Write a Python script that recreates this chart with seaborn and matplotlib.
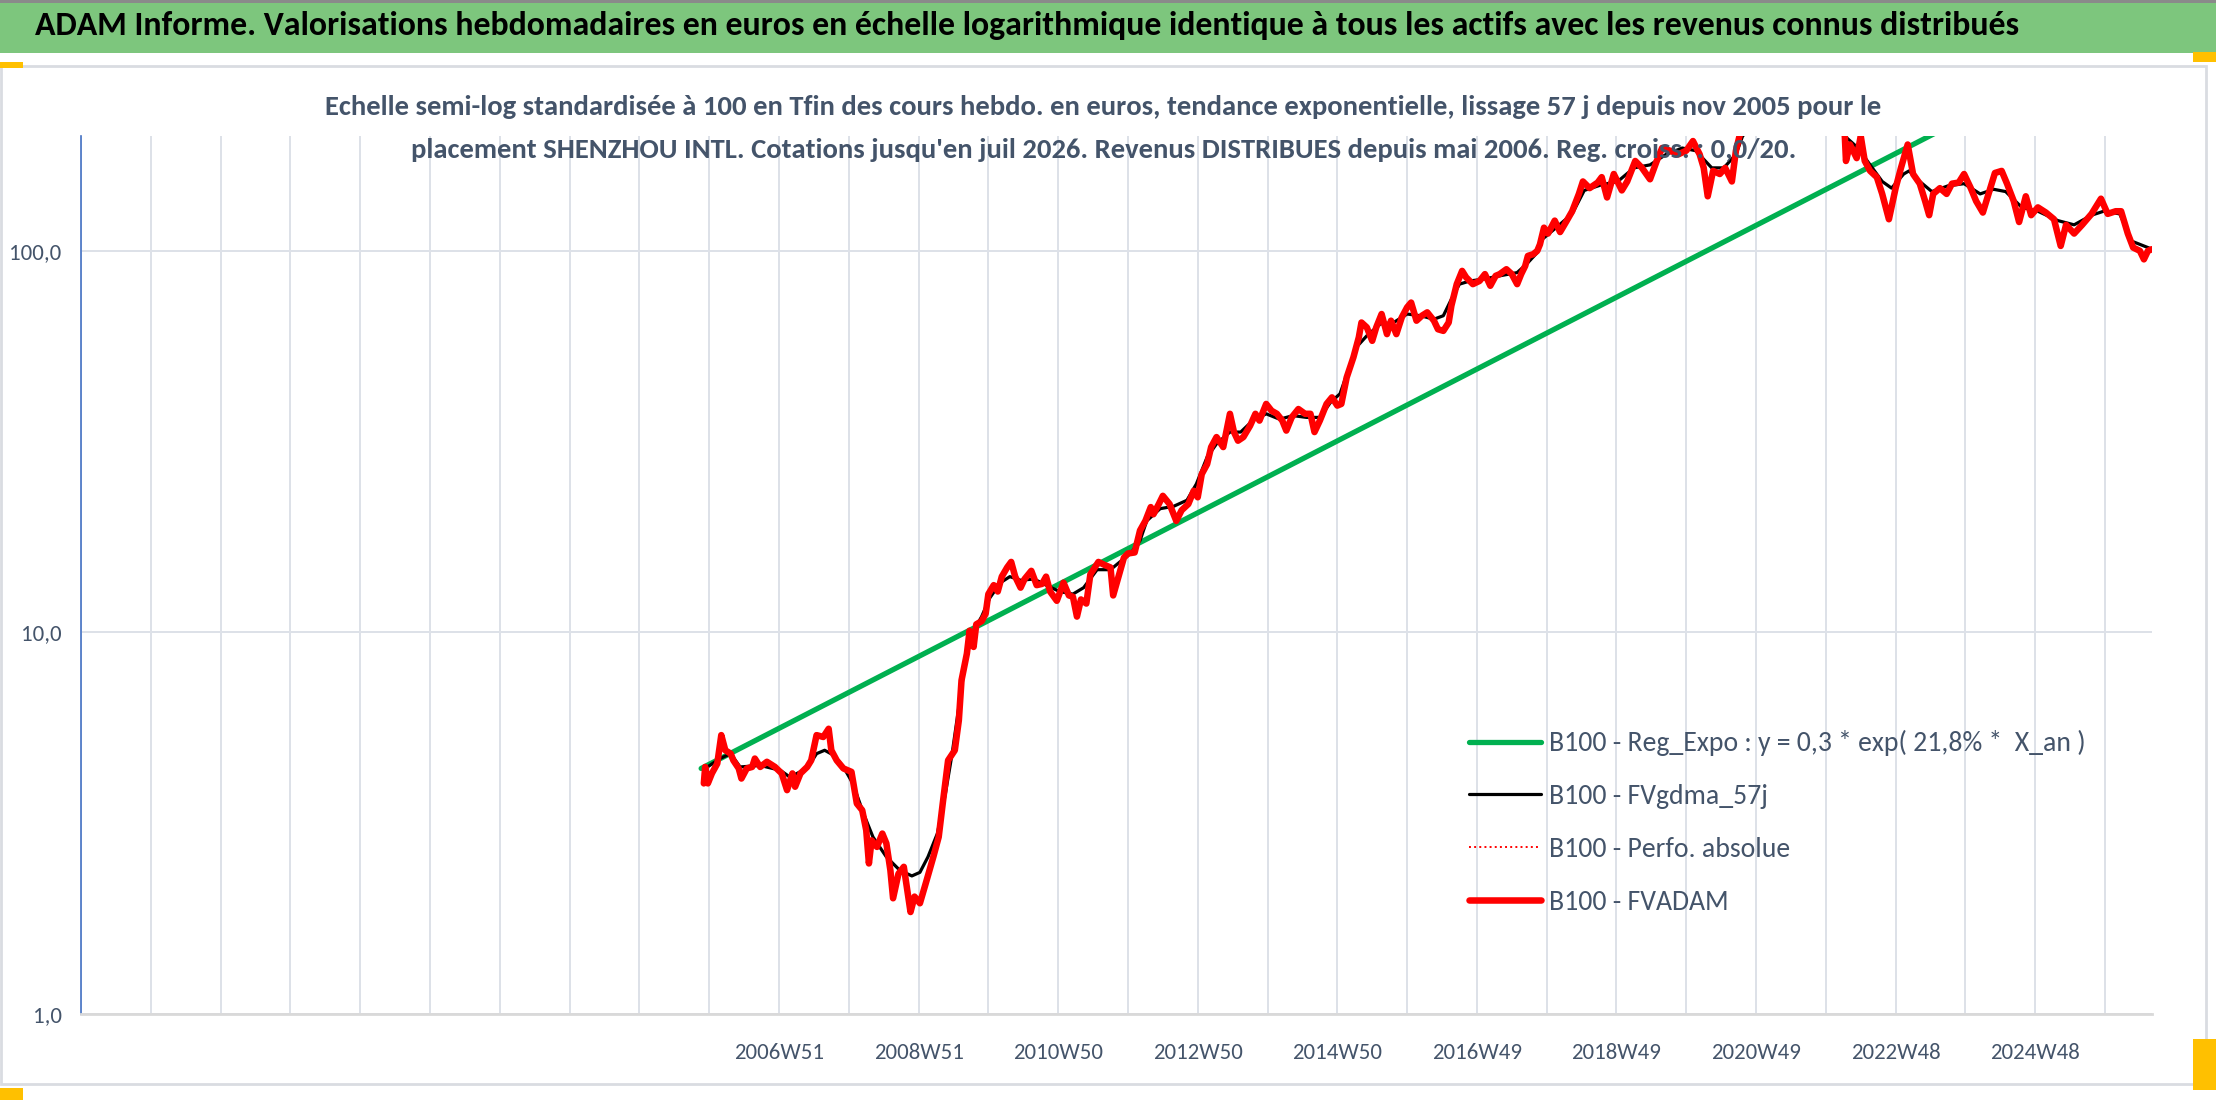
import matplotlib
matplotlib.use('Agg')
import matplotlib.pyplot as plt
from matplotlib.patches import Rectangle
import numpy as np
import pandas as pd
import seaborn as sns

sns.set_style('white')
plt.rcParams['font.family'] = ['Carlito', 'Barlow Semi Condensed', 'DejaVu Sans']

# --- données (semaine = index hebdo depuis 1996W51) ---
red_weeks = [464, 465, 467, 470, 474, 477, 480, 484, 486, 490, 492, 496, 500, 502, 506, 511, 517, 522, 526, 530,
             532, 536, 541, 544, 548, 553, 557, 559, 563, 568, 574, 578, 582, 585, 587, 589, 593, 597, 600, 603,
             605, 609, 613, 618, 621, 625, 630, 635, 639, 642, 646, 651, 654, 656, 660, 662, 665, 667, 671, 674,
             676, 680, 683, 686, 690, 693, 696, 700, 703, 708, 712, 716, 719, 722, 727, 732, 736, 739, 742, 745,
             749, 752, 758, 763, 767, 769, 773, 777, 780, 785, 789, 793, 797, 799, 803, 806, 811, 816, 820, 825,
             829, 832, 835, 839, 842, 846, 851, 856, 859, 862, 866, 871, 875, 878, 883, 887, 891, 895, 898, 902,
             907, 912, 916, 919, 923, 928, 932, 936, 939, 943, 948, 952, 954, 958, 962, 965, 969, 973, 976, 980,
             984, 988, 991, 995, 999, 1003, 1008, 1011, 1015, 1019, 1021, 1025, 1029, 1032, 1037, 1042, 1046, 1050,
             1054, 1057, 1062, 1066, 1070, 1073, 1076, 1078, 1082, 1085, 1087, 1090, 1093, 1098, 1102, 1107, 1111,
             1116, 1119, 1124, 1130, 1133, 1137, 1142, 1148, 1152, 1158, 1163, 1169, 1174, 1178, 1184, 1190, 1196,
             1201, 1206, 1209, 1212, 1216, 1221, 1225, 1230, 1233, 1236, 1245, 1260, 1275, 1290, 1305, 1314, 1315,
             1318, 1323, 1326, 1329, 1333, 1338, 1342, 1347, 1352, 1356, 1361, 1365, 1370, 1374, 1377, 1380, 1385,
             1390, 1394, 1399, 1403, 1408, 1412, 1417, 1422, 1426, 1431, 1435, 1440, 1444, 1449, 1453, 1458, 1464,
             1470, 1475, 1479, 1485, 1491, 1498, 1505, 1510, 1516, 1520, 1525, 1529, 1534, 1537, 1540, 1543]
red_vals = [4.02, 4.44, 4.02, 4.27, 4.53, 5.38, 4.91, 4.81, 4.62, 4.40, 4.14, 4.40, 4.44, 4.67, 4.44, 4.58, 4.44, 4.27, 3.86, 4.27,
            3.94, 4.27, 4.44, 4.62, 5.38, 5.32, 5.59, 4.91, 4.62, 4.40, 4.31, 3.56, 3.42, 3.03, 2.48, 2.85, 2.74, 2.97, 2.80, 2.38,
            2.01, 2.33, 2.43, 1.85, 2.03, 1.95, 2.24, 2.58, 2.91, 3.56, 4.62, 4.91, 5.88, 7.49, 8.80, 10.1, 9.16, 10.5, 10.7, 11.2,
            12.6, 13.3, 12.8, 14.0, 14.8, 15.3, 14.0, 13.1, 13.8, 14.5, 13.3, 13.4, 14.0, 12.8, 12.1, 13.5, 12.5, 12.4, 11.0, 12.2,
            11.9, 14.2, 15.3, 15.0, 14.8, 12.5, 14.0, 15.7, 16.1, 16.2, 18.5, 19.6, 21.3, 20.4, 21.7, 22.8, 21.7, 19.6, 20.9, 21.7,
            23.5, 22.6, 26.0, 27.6, 30.6, 32.5, 30.6, 37.4, 33.5, 31.8, 32.5, 34.8, 37.4, 35.9, 39.7, 38.1, 37.4, 35.9, 33.8, 36.6,
            38.5, 37.4, 37.4, 33.5, 35.9, 39.7, 41.3, 39.3, 39.7, 46.6, 52.6, 59.3, 64.9, 63.0, 58.1, 63.0, 68.3, 60.5, 65.6, 60.5,
            66.9, 71.1, 73.2, 65.6, 67.6, 69.0, 65.6, 62.3, 61.7, 64.9, 71.8, 81.8, 88.6, 85.2, 81.8, 83.4, 86.9, 81.0,
            86.0, 86.9, 89.5, 86.9, 81.8, 86.9, 91.3, 97.0, 98.0, 100, 104, 115, 111, 120, 112, 120, 127,
            141, 152, 146, 151, 156, 138, 159, 144, 152, 172, 165, 154, 172, 186, 183, 179, 183,
            194, 179, 165, 139, 162, 159, 165, 152, 183, 202, 225, 250, 265, 245, 225, 205, 172,
            190, 175, 200, 172, 162, 156, 141, 121, 146, 165, 190, 159, 150, 135, 124, 141, 146,
            141, 150, 151, 159, 146, 135, 126, 144, 160, 162, 150, 135, 119, 139, 124, 130, 126,
            121, 103, 117, 111, 117, 125, 137, 125, 127, 127, 111, 102, 100, 95, 100, 101]

black_weeks = [465, 476, 484, 491, 506, 521, 528, 541, 548, 554, 561, 568, 575, 583, 590, 600, 610, 619, 625, 631,
               638, 644, 649, 654, 659, 665, 671, 677, 685, 692, 700, 710, 719, 729, 739, 747, 757, 767, 774, 782,
               789, 794, 804, 814, 824, 831, 839, 846, 856, 864, 873, 883, 893, 903, 913, 923, 931, 938, 944, 950,
               958, 968, 978, 988, 998, 1008, 1015, 1021, 1027, 1035, 1045, 1057, 1070, 1077, 1085, 1087, 1099, 1111,
               1120, 1133, 1145, 1157, 1169, 1181, 1193, 1203, 1215, 1224, 1233, 1238, 1250, 1270, 1290, 1305, 1314,
               1324, 1333, 1342, 1349, 1358, 1362, 1370, 1379, 1391, 1403, 1415, 1425, 1434, 1446, 1458, 1473, 1485,
               1498, 1507, 1519, 1528, 1540, 1543]
black_vals = [4.40, 4.67, 4.81, 4.44, 4.48, 4.35, 4.18, 4.40, 4.81, 4.91, 4.76, 4.44, 4.02, 3.35, 2.91, 2.58, 2.38, 2.30, 2.35, 2.58,
              2.97, 3.78, 4.81, 6.38, 8.45, 10.1, 11.0, 12.3, 13.5, 14.0, 13.7, 13.8, 13.3, 12.8, 12.6, 13.1, 14.6, 14.6, 15.3, 16.1,
              17.4, 19.6, 21.1, 21.4, 22.2, 24.5, 28.8, 31.2, 33.5, 33.5, 35.9, 37.4, 36.2, 37.0, 36.6, 36.6, 40.1, 42.2, 48.5, 55.8,
              59.9, 64.3, 64.9, 68.3, 67.6, 66.2, 67.6, 74.7, 81.8, 83.4, 84.3, 86.0, 87.7, 92.3, 99.0, 106, 115, 125,
              144, 149, 152, 165, 168, 179, 186, 183, 165, 165, 179, 200, 220, 240, 235, 220, 200,
              186, 168, 152, 146, 159, 162, 152, 143, 148, 150, 141, 145, 143, 130, 127, 120, 117,
              124, 127, 125, 106, 102, 101]

# régression expo : extrémités
green_weeks = [462, 1543]
green_vals = [4.4, 399]

tick_labels = ['2006W51', '2008W51', '2010W50', '2012W50', '2014W50', '2016W49',
               '2018W49', '2020W49', '2022W48', '2024W48']
y_ticks = [1, 10, 100]
y_labels = ['1,0', '10,0', '100,0']

labels = ['B100 - Reg_Expo : y = 0,3 * exp( 21,8% *  X_an )', 'B100 - FVgdma_57j',
          'B100 - Perfo. absolue', 'B100 - FVADAM']

df_red = pd.DataFrame({'week': red_weeks, 'val': red_vals})
df_black = pd.DataFrame({'week': black_weeks, 'val': black_vals})
df_green = pd.DataFrame({'week': green_weeks, 'val': green_vals})

txt_col = '#44546A'
grid_col = '#DDE1E8'

fig = plt.figure(figsize=(22.16, 11.02), dpi=100)

# bandeau vert
fig.patches.append(Rectangle((0, 0.952), 1, 0.048, transform=fig.transFigure,
                             facecolor='#7DC67D', edgecolor='none', zorder=0))
fig.patches.append(Rectangle((0, 0.997), 1, 0.003, transform=fig.transFigure,
                             facecolor='#8A8A8A', edgecolor='none', zorder=0))
# cadre de la zone graphique
fig.patches.append(Rectangle((0.0005, 0.016), 0.995, 0.924, transform=fig.transFigure,
                             facecolor='none', edgecolor='#D9DCE1', lw=2, zorder=0))
# poignées orange
for (x0, y0, w0, h0) in [(0, 0.938, 0.0105, 0.006), (0.9895, 0.944, 0.0105, 0.009),
                         (0, 0.002, 0.0105, 0.011), (0.9895, 0.011, 0.0105, 0.046)]:
    fig.patches.append(Rectangle((x0, y0), w0, h0, transform=fig.transFigure,
                                 facecolor='#FFC000', edgecolor='none', zorder=1))

fig.text(0.016, 0.9765, 'ADAM Informe. Valorisations hebdomadaires en euros en échelle logarithmique '
         'identique à tous les actifs avec les revenus connus distribués',
         ha='left', va='center', fontsize=24.4, color='black', fontweight='bold')

ax = fig.add_axes([0.0366, 0.0799, 0.9345, 0.7967])

sns.lineplot(data=df_green, x='week', y='val', ax=ax, color='#00B050', lw=3.8,
             label=labels[0], zorder=2)
sns.lineplot(data=df_black, x='week', y='val', ax=ax, color='black', lw=2.3,
             label=labels[1], zorder=3)
sns.lineplot(data=df_red, x='week', y='val', ax=ax, color='#FF0000', lw=1.4,
             linestyle=':', label=labels[2], zorder=3.5)
sns.lineplot(data=df_red, x='week', y='val', ax=ax, color='#FF0000', lw=4.7,
             label=labels[3], zorder=4)

ax.set_yscale('log')
ax.set_ylim(1, 200)
ax.set_xlim(0, 1543)
ax.set_yticks(y_ticks)
ax.set_yticklabels(y_labels)
ax.yaxis.set_minor_locator(matplotlib.ticker.NullLocator())

ax.set_xticks(np.arange(0, 1543, 52), minor=True)
ax.set_xticks(520 + 104 * np.arange(len(tick_labels)))
ax.set_xticklabels(tick_labels)

ax.grid(True, which='both', axis='x', color=grid_col, lw=1.4)
ax.grid(True, which='major', axis='y', color=grid_col, lw=1.4)
ax.set_axisbelow(True)

ax.tick_params(axis='x', which='both', length=7, width=1.3, color=grid_col,
               labelsize=16.5, labelcolor=txt_col, pad=14)
ax.tick_params(axis='y', which='both', length=0, labelsize=16.5, labelcolor=txt_col, pad=14)
ax.set_xlabel('')
ax.set_ylabel('')

for s in ['top', 'right']:
    ax.spines[s].set_visible(False)
ax.spines['left'].set_color('#4472C4')
ax.spines['left'].set_linewidth(1.2)
ax.spines['bottom'].set_color('#D9D9D9')
ax.spines['bottom'].set_linewidth(2)

# sous-titre par-dessus le graphique
fig.text(0.498, 0.903, 'Echelle semi-log standardisée à 100 en Tfin des cours hebdo. en euros, tendance '
         'exponentielle, lissage 57 j depuis nov 2005 pour le',
         ha='center', va='center', fontsize=20.6, color=txt_col, fontweight='bold')
fig.text(0.498, 0.864, "placement SHENZHOU INTL. Cotations jusqu'en juil 2026. Revenus DISTRIBUES depuis "
         "mai 2006. Reg. croiss. : 0,0/20.",
         ha='center', va='center', fontsize=20.6, color=txt_col, fontweight='bold')

leg = ax.legend(loc='center left', bbox_to_anchor=(0.6565, 0.2536), bbox_transform=fig.transFigure,
                frameon=False, fontsize=20, handlelength=2.6, handletextpad=0.3,
                labelspacing=1.0, borderpad=0, labelcolor=txt_col)

fig.savefig('out.png', dpi=100)
